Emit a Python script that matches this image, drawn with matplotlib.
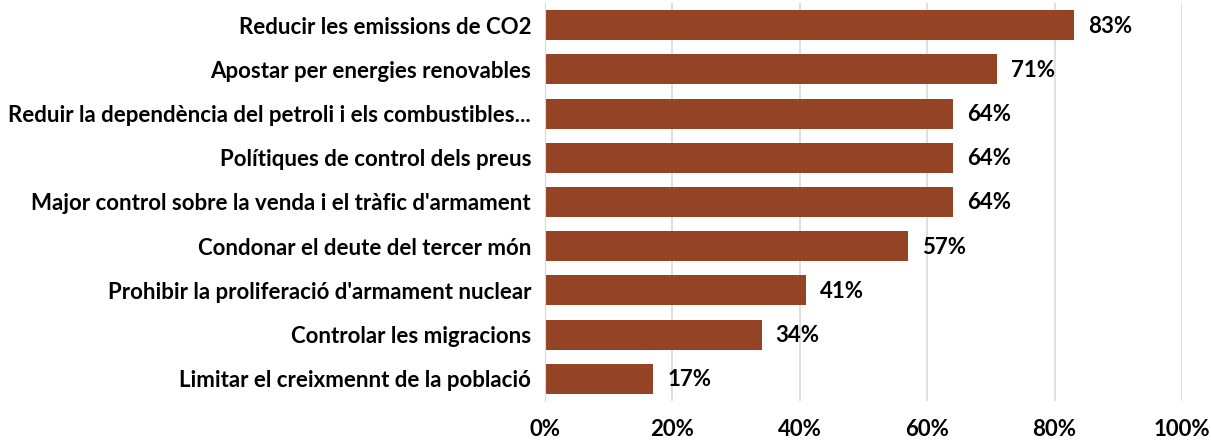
import matplotlib
matplotlib.use("Agg")
import matplotlib.pyplot as plt
from matplotlib.ticker import PercentFormatter

# Calibri is not available, Lato is the closest installed face
plt.rcParams['font.family'] = ['Lato', 'DejaVu Sans']

categories = [
    "Reducir les emissions de CO2",
    "Apostar per energies renovables",
    "Reduir la dependència del petroli i els combustibles...",
    "Polítiques de control dels preus",
    "Major control sobre la venda i el tràfic d'armament",
    "Condonar el deute del tercer món",
    "Prohibir la proliferació d'armament nuclear",
    "Controlar les migracions",
    "Limitar el creixmennt de la població",
]
values = [83, 71, 64, 64, 64, 57, 41, 34, 17]
xticks = [0, 20, 40, 60, 80, 100]

bar_color = "#954325"
fsize = 16

fig = plt.figure(figsize=(12.11, 4.41), dpi=100)
ax = fig.add_axes([0.450, 0.091, 0.526, 0.902])

y = range(len(categories))
ax.barh(y, values, height=0.68, color=bar_color, zorder=2)

for yi, v in zip(y, values):
    ax.text(v + 2.2, yi + 0.02, f"{v}%", va="center", ha="left",
            fontsize=fsize, fontweight="bold", color="#000000")

ax.set_xlim(0, 100)
ax.set_ylim(len(categories) - 0.5, -0.5)
ax.set_xticks(xticks)
ax.xaxis.set_major_formatter(PercentFormatter(decimals=0))
ax.set_yticks(list(y))
ax.set_yticklabels(categories)

ax.grid(axis="x", color="#d9d9d9", linewidth=1.2, zorder=0)
for s in ["top", "right", "bottom"]:
    ax.spines[s].set_visible(False)
ax.spines["left"].set_color("#d9d9d9")
ax.tick_params(axis="both", length=0)
ax.tick_params(axis="y", pad=10)
ax.tick_params(axis="x", pad=13)
for lab in ax.get_yticklabels() + ax.get_xticklabels():
    lab.set_fontsize(fsize)
    lab.set_fontweight("bold")

fig.savefig("out.png", dpi=100)
